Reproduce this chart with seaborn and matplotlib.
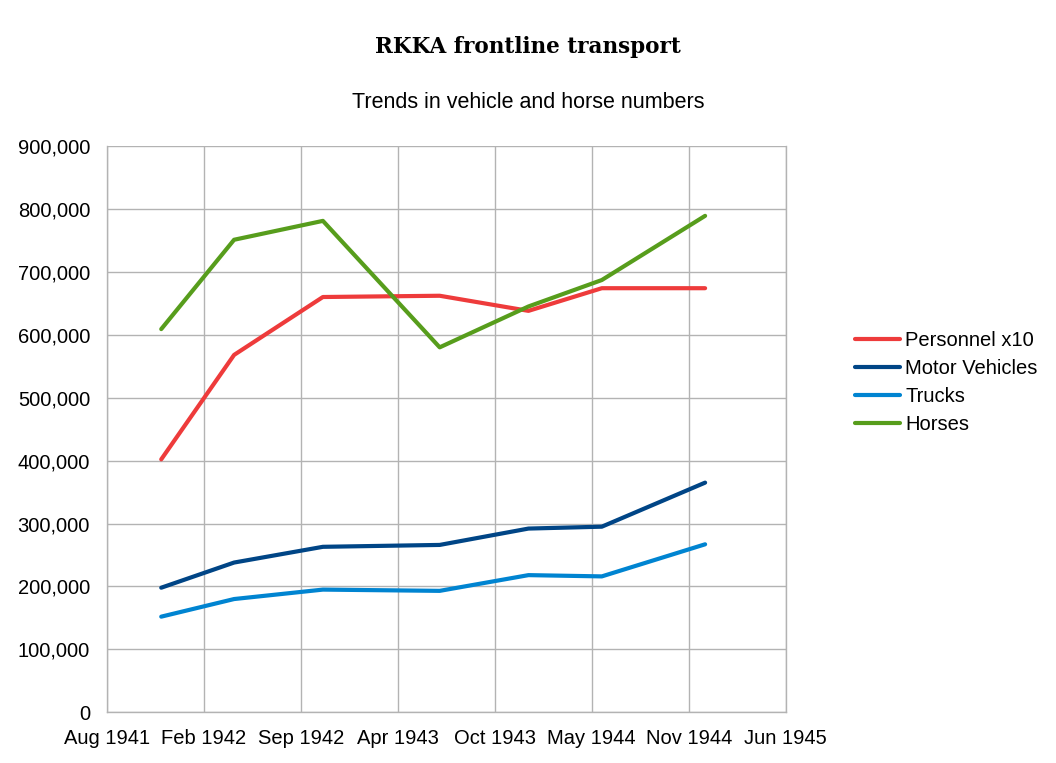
import pandas as pd
import matplotlib.pyplot as plt
import matplotlib.dates as mdates
import matplotlib.ticker as mticker
import seaborn as sns

dates = ["1941-12-01", "1942-05-01", "1942-11-01", "1943-07-01",
         "1944-01-01", "1944-06-01", "1945-01-01"]
personnel_x10 = [402000, 568000, 660000, 662000, 638000, 674000, 674000]
motor_vehicles = [198000, 238000, 263000, 266000, 292000, 295000, 365000]
trucks = [152000, 180000, 195000, 193000, 218000, 216000, 267000]
horses = [609000, 751000, 781000, 580000, 645000, 687000, 789000]

series_names = ["Personnel x10", "Motor Vehicles", "Trucks", "Horses"]
colors = ["#ee3b3b", "#004586", "#0084d1", "#579d1c"]

df = pd.DataFrame({
    "date": pd.to_datetime(dates),
    "Personnel x10": personnel_x10,
    "Motor Vehicles": motor_vehicles,
    "Trucks": trucks,
    "Horses": horses,
})
long_df = df.melt(id_vars="date", var_name="series", value_name="value")

sns.set_style("white")
plt.rcParams["font.family"] = ["Liberation Sans", "DejaVu Sans"]
plt.rcParams["text.color"] = "black"

fig = plt.figure(figsize=(10.56, 7.63), dpi=100)
ax = fig.add_axes([106.7 / 1056, 1 - 712.3 / 763,
                   (785.7 - 106.7) / 1056, (712.3 - 146) / 763])

sns.lineplot(data=long_df, x="date", y="value", hue="series",
             hue_order=series_names, palette=colors, linewidth=3.0, ax=ax)

# x axis: ticks every 201 days, like the original chart
start = pd.Timestamp("1941-08-10")
ticks = [start + pd.Timedelta(days=201 * k) for k in range(8)]
ax.set_xlim(ticks[0], ticks[-1])
ax.set_xticks(ticks)
ax.xaxis.set_major_formatter(mdates.DateFormatter("%b %Y"))

ax.set_ylim(0, 900000)
ax.set_yticks(range(0, 900001, 100000))
ax.yaxis.set_major_formatter(mticker.FuncFormatter(lambda v, p: f"{int(v):,}"))

ax.grid(True, color="#b3b3b3", linewidth=1)
ax.set_axisbelow(True)
for side in ["left", "right", "bottom"]:
    ax.spines[side].set_color("#b3b3b3")
    ax.spines[side].set_linewidth(1)
ax.spines["top"].set_visible(False)
ax.tick_params(axis="both", length=9, width=1, color="#b3b3b3",
               labelsize=14.5, labelcolor="black", pad=3)
ax.set_xlabel("")
ax.set_ylabel("")

leg = ax.legend(loc="center left", bbox_to_anchor=(1.102, 0.583), frameon=False,
                fontsize=14.5, handlelength=2.25, handletextpad=0.25,
                labelspacing=0.45, borderpad=0, borderaxespad=0)
for line in leg.get_lines():
    line.set_linewidth(3.0)
for t in leg.get_texts():
    t.set_color("black")

fig.text(0.5, 1 - 47 / 763, "RKKA frontline transport", ha="center",
         va="center", fontsize=15.5, fontweight="bold", family="DejaVu Serif",
         color="black")
fig.text(0.5, 1 - 102 / 763, "Trends in vehicle and horse numbers",
         ha="center", va="center", fontsize=15.5, color="black")

fig.savefig("out.png", dpi=100)
